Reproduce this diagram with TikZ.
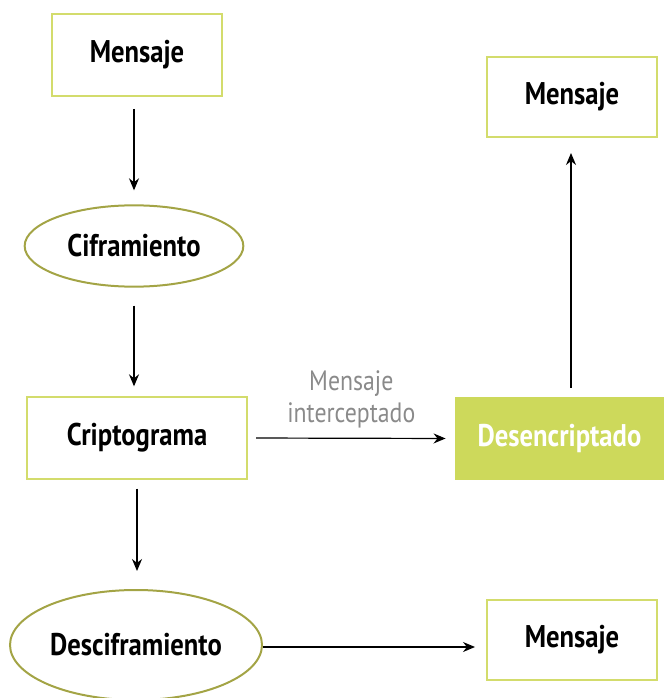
\documentclass[tikz,border=0pt]{standalone}
\usepackage{fontspec}
\setmainfont{PT Sans}[FakeStretch=0.85]
\usepackage{tikz}
\usetikzlibrary{positioning,shapes.geometric,arrows.meta}
\definecolor{boxline}{HTML}{D3DC6C}
\definecolor{ovalline}{HTML}{A3A445}
\definecolor{boxfill}{HTML}{CDD95B}
\definecolor{labelgray}{HTML}{8A8A8A}
\tikzset{
  msgbox/.style={draw=boxline, line width=1.5pt, rectangle, inner sep=0pt,
    font=\fontsize{23.5}{28}\selectfont\bfseries},
  ovalbox/.style={draw=ovalline, line width=1.5pt, ellipse, inner sep=0pt,
    font=\fontsize{23.5}{28}\selectfont\bfseries},
  filledbox/.style={fill=boxfill, rectangle, inner sep=0pt, text=white,
    font=\fontsize{23.5}{28}\selectfont\bfseries},
  flow/.style={-{Stealth[length=9pt,width=7.5pt]}, line width=0.9pt}
}

\begin{document}
\begin{tikzpicture}[x=0.75pt,y=-0.75pt]
            \useasboundingbox (0,0) rectangle (664,698);
            \node[msgbox, minimum width=127.5pt, minimum height=61.5pt](m1) at (137,55){Mensaje};
            \node[ovalbox, minimum width=164pt, minimum height=61pt](cif) at (134,246){Ciframiento};
            \node[msgbox, minimum width=165pt, minimum height=61pt](crip) at (137,438){Criptograma};
            \node[filledbox, minimum width=157pt, minimum height=62pt](desen) at (559.5,438.5){Desencriptado};
            \node[msgbox, minimum width=127.5pt, minimum height=60pt](m2) at (572,97){Mensaje};
            \node[ovalbox, minimum width=189pt, minimum height=82.5pt](desc) at (136,645){Desciframiento};
            \node[msgbox, minimum width=127.5pt, minimum height=60.5pt](m3) at (572,640){Mensaje};
            \coordinate (dout) at ([yshift=-1.5pt]desc.east);
            \path ([xshift=-2.25pt]m1.south) edge[flow, shorten <=9pt, shorten >=10.5pt] (cif.north);
            \path (cif.south) edge[flow, shorten <=13.5pt, shorten >=7.5pt] (cif.south |- crip.north);
            \path (crip.south) edge[flow, shorten <=6.75pt, shorten >=13.5pt] (crip.south |- desc.north);
            \path (crip.east) edge[flow, shorten <=6pt, shorten >=6.75pt]
              node[above=4pt, align=center, text=labelgray, font=\fontsize{21}{24}\selectfont] {Mensaje\\interceptado} (desen.west);
            \path ([xshift=-0.75pt]m2.south |- desen.north) edge[flow, shorten <=6.75pt, shorten >=11.25pt] ([xshift=-0.75pt]m2.south);
            \path (dout) edge[flow, shorten >=8.25pt] (m3.west |- dout);
\end{tikzpicture}
\end{document}
